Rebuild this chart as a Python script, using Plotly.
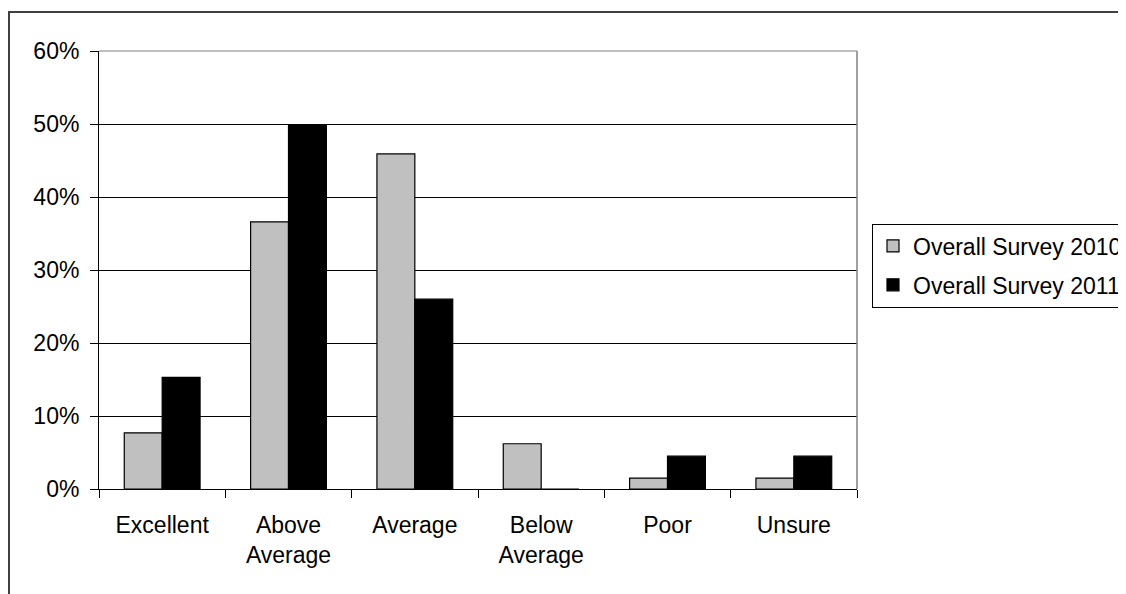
import plotly.graph_objects as go

categories = ["Excellent", "Above<br>Average", "Average", "Below<br>Average", "Poor", "Unsure"]
survey_2010 = [0.077, 0.366, 0.459, 0.062, 0.015, 0.015]
survey_2011 = [0.153, 0.499, 0.260, 0.0, 0.045, 0.045]
y_tick_vals = [0, 0.1, 0.2, 0.3, 0.4, 0.5, 0.6]
y_tick_text = ["0%", "10%", "20%", "30%", "40%", "50%", "60%"]
series_names = ["Overall Survey 2010", "Overall Survey 2011"]

FONT = "Liberation Sans, Arial, sans-serif"
# page body has an 8px margin, so the figure is 8px smaller than the window
W, H = 1118, 586
ML, MR, MT, MB = 91, 269, 43, 105
PW, PH = W - ML - MR, H - MT - MB

fig = go.Figure()
fig.add_trace(go.Bar(x=categories, y=survey_2010, name=series_names[0], legendgroup="a",
                     marker=dict(color="#C0C0C0", line=dict(color="#000000", width=1.2))))
fig.add_trace(go.Bar(x=categories, y=survey_2011, name=series_names[1], legendgroup="b",
                     marker=dict(color="#000000", line=dict(color="#000000", width=1.2))))

def px_x(p):
    return (p - ML) / PW

def px_y(p):
    return (H - MB - p) / PH

fig.update_layout(
    width=W, height=H,
    margin=dict(l=ML, r=MR, t=MT, b=MB, autoexpand=False),
    paper_bgcolor="white", plot_bgcolor="white",
    font=dict(family=FONT, size=23, color="black"),
    bargap=0.4, bargroupgap=0,
    showlegend=True,
    legend=dict(x=px_x(864), y=px_y(215.5), xanchor="left", yanchor="top",
                bordercolor="black", borderwidth=1, bgcolor="white",
                font=dict(family=FONT, size=23, color="black"),
                tracegroupgap=6, traceorder="grouped"),
    xaxis=dict(showline=True, linecolor="black", linewidth=1, showgrid=False,
               ticks="outside", tickson="boundaries", ticklen=8, tickcolor="black",
               tickwidth=1, ticklabelstandoff=15),
    yaxis=dict(range=[0, 0.6], tickvals=y_tick_vals, ticktext=y_tick_text,
               showline=True, linecolor="black", linewidth=1,
               showgrid=True, gridcolor="black", gridwidth=1, zeroline=False,
               ticks="outside", ticklen=8, tickcolor="black", tickwidth=1,
               ticklabelstandoff=6),
    shapes=[
        dict(type="line", xref="paper", yref="paper", x0=0, x1=1, y0=1, y1=1,
             line=dict(color="#808080", width=1), layer="above"),
        dict(type="line", xref="paper", yref="paper", x0=1, x1=1, y0=0, y1=1,
             line=dict(color="#808080", width=1.5), layer="above"),
        dict(type="rect", xref="paper", yref="paper", x0=px_x(1), x1=px_x(1400),
             y0=px_y(800), y1=px_y(4), line=dict(color="#404040", width=2),
             fillcolor="rgba(0,0,0,0)", layer="above"),
    ],
)

fig.write_html("out.html")
